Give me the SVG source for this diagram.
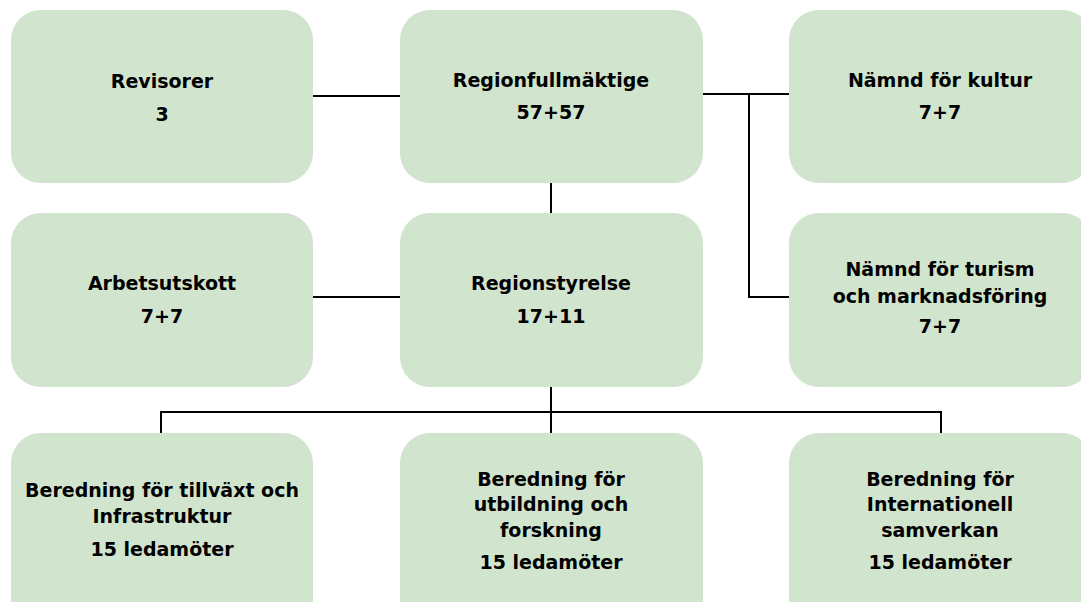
<svg xmlns="http://www.w3.org/2000/svg" width="1081" height="602" viewBox="0 0 1081 602">
<style>
.box{fill:#d1e4ce;}
.t{font-family:"DejaVu Sans","Liberation Sans",sans-serif;font-weight:bold;font-size:19px;fill:#000;text-anchor:middle;}
.c{stroke:#000;stroke-width:2;fill:none;}
</style>
<rect width="1081" height="602" fill="#fff"/>
<g id="connectors">
<line class="c" x1="313" y1="96" x2="400" y2="96"/>
<polyline class="c" points="703,94 789,94"/>
<polyline class="c" points="749,94 749,297 789,297"/>
<line class="c" x1="551" y1="183" x2="551" y2="213"/>
<line class="c" x1="313" y1="297" x2="400" y2="297"/>
<line class="c" x1="551" y1="387" x2="551" y2="433"/>
<polyline class="c" points="161,433 161,412 941,412 941,433"/>
</g>
<g id="revisorer"><rect class="box" x="11" y="10" width="302" height="173" rx="30"/>
<text class="t" x="162" y="88">Revisorer</text><text class="t" x="162" y="121">3</text></g>
<g id="regionfullmaktige"><rect class="box" x="400" y="10" width="303" height="173" rx="30"/>
<text class="t" x="551" y="87">Regionfullmäktige</text><text class="t" x="551" y="119">57+57</text></g>
<g id="namnd-kultur"><rect class="box" x="789" y="10" width="303" height="173" rx="30"/>
<text class="t" x="940" y="87">Nämnd för kultur</text><text class="t" x="940" y="119">7+7</text></g>
<g id="arbetsutskott"><rect class="box" x="11" y="213" width="302" height="174" rx="30"/>
<text class="t" x="162" y="290">Arbetsutskott</text><text class="t" x="162" y="323">7+7</text></g>
<g id="regionstyrelse"><rect class="box" x="400" y="213" width="303" height="174" rx="30"/>
<text class="t" x="551" y="290">Regionstyrelse</text><text class="t" x="551" y="323">17+11</text></g>
<g id="namnd-turism"><rect class="box" x="789" y="213" width="303" height="174" rx="30"/>
<text class="t" x="940" y="276">Nämnd för turism</text><text class="t" x="940" y="303">och marknadsföring</text><text class="t" x="940" y="333">7+7</text></g>
<g id="beredning-tillvaxt"><rect class="box" x="11" y="433" width="302" height="200" rx="30"/>
<text class="t" x="162" y="497">Beredning för tillväxt och</text><text class="t" x="162" y="523">Infrastruktur</text><text class="t" x="162" y="556">15 ledamöter</text></g>
<g id="beredning-utbildning"><rect class="box" x="400" y="433" width="303" height="200" rx="30"/>
<text class="t" x="551" y="486">Beredning för</text><text class="t" x="551" y="511">utbildning och</text><text class="t" x="551" y="537">forskning</text><text class="t" x="551" y="569">15 ledamöter</text></g>
<g id="beredning-internationell"><rect class="box" x="789" y="433" width="303" height="200" rx="30"/>
<text class="t" x="940" y="486">Beredning för</text><text class="t" x="940" y="511">Internationell</text><text class="t" x="940" y="537">samverkan</text><text class="t" x="940" y="569">15 ledamöter</text></g>
</svg>
